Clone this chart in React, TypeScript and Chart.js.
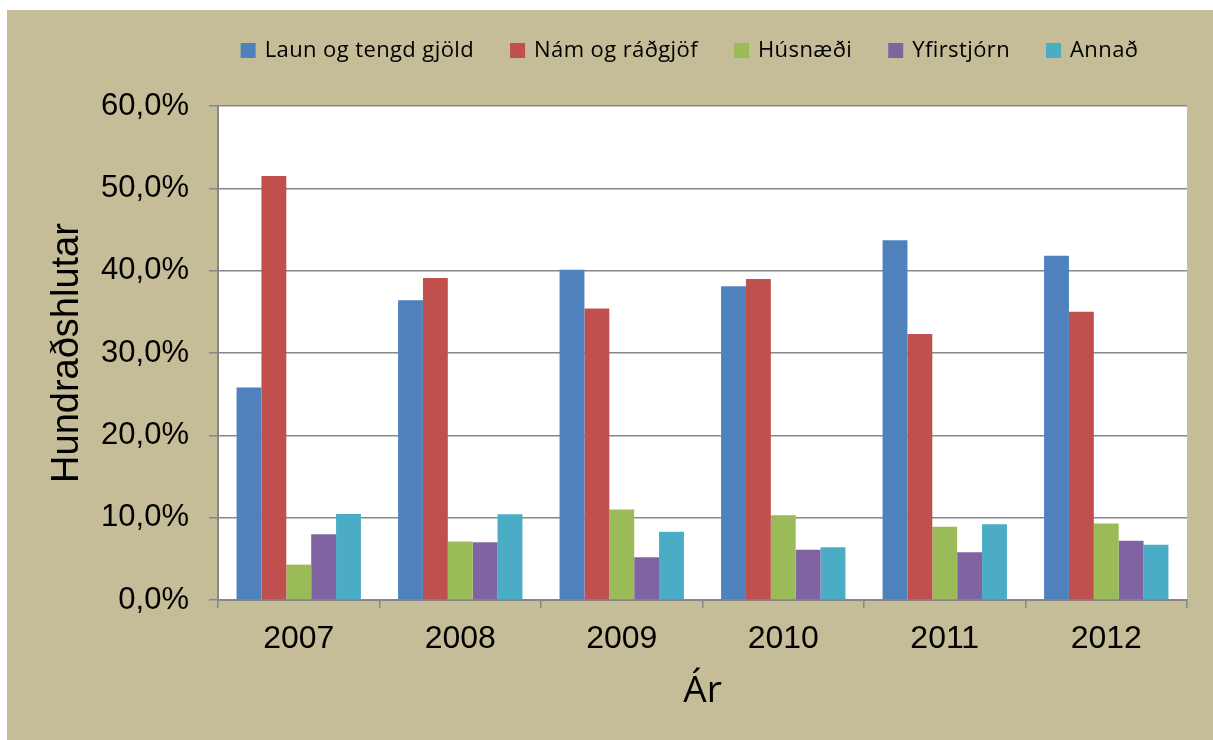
import React, { useEffect, useRef } from 'react';
import { Chart, registerables } from 'chart.js';

Chart.register(...registerables);

const years = ['2007', '2008', '2009', '2010', '2011', '2012'];
const seriesNames = ['Laun og tengd gjöld', 'Nám og ráðgjöf', 'Húsnæði', 'Yfirstjórn', 'Annað'];
const laun = [25.8, 36.4, 40.1, 38.1, 43.7, 41.8];
const nam = [51.5, 39.1, 35.4, 39.0, 32.3, 35.0];
const husnaedi = [4.3, 7.1, 11.0, 10.3, 8.9, 9.3];
const yfirstjorn = [8.0, 7.0, 5.2, 6.1, 5.8, 7.2];
const annad = [10.45, 10.4, 8.3, 6.4, 9.2, 6.7];
const seriesColors = ['#4F81BD', '#C0504D', '#9BBB59', '#8064A2', '#4BACC6'];
const yTickValues = [0, 10, 20, 30, 40, 50, 60];

const BG = '#C4BD97';
const GRID = '#878787';

const plotBgPlugin = {
  id: 'plotBg',
  beforeDraw(chart: any) {
    const { ctx, chartArea } = chart;
    ctx.save();
    ctx.fillStyle = '#ffffff';
    ctx.fillRect(chartArea.left, chartArea.top, chartArea.right - chartArea.left, chartArea.bottom - chartArea.top);
    ctx.restore();
  },
};

const legendPlugin = {
  id: 'customLegend',
  afterDraw(chart: any) {
    const ctx = chart.ctx;
    ctx.save();
    ctx.font = '22px "Open Sans"';
    try {
      (ctx as any).letterSpacing = '0.4px';
    } catch (e) {}
    ctx.textBaseline = 'middle';
    ctx.textAlign = 'left';
    const box = 15;
    const gapText = 9;
    const gapItem = 36;
    const items = chart.data.datasets.map((ds: any) => ({
      label: ds.label,
      color: ds.backgroundColor,
      w: ctx.measureText(ds.label).width,
    }));
    const total =
      items.reduce((s: number, it: any) => s + box + gapText + it.w, 0) + gapItem * (items.length - 1);
    const ca = chart.chartArea;
    let x = (ca.left + ca.right) / 2 - 13 - total / 2;
    const top = 33;
    for (const it of items) {
      ctx.fillStyle = it.color;
      ctx.fillRect(x, top, box, box);
      ctx.fillStyle = '#000';
      ctx.fillText(it.label, x + box + gapText, top + box / 2);
      x += box + gapText + it.w + gapItem;
    }
    ctx.restore();
  },
};

export default function App() {
  const canvasRef = useRef<HTMLCanvasElement | null>(null);

  useEffect(() => {
    const canvas = canvasRef.current;
    if (!canvas) return;
    const values = [laun, nam, husnaedi, yfirstjorn, annad];
    const chart = new Chart(canvas, {
      type: 'bar',
      data: {
        labels: years,
        datasets: seriesNames.map((name, i) => ({
          label: name,
          data: values[i],
          backgroundColor: seriesColors[i],
          borderWidth: 0,
          categoryPercentage: 0.77,
          barPercentage: 1,
        })),
      },
      options: {
        responsive: false,
        animation: false,
        devicePixelRatio: 1,
        color: '#000',
        layout: { padding: { top: 96, right: 26, left: 0, bottom: 0 } },
        plugins: {
          legend: { display: false },
          title: { display: false },
          tooltip: { enabled: false },
        },
        scales: {
          x: {
            grid: {
              display: true,
              drawOnChartArea: false,
              drawTicks: true,
              tickLength: 8,
              color: GRID,
              lineWidth: 1.5,
              offset: true,
            },
            border: { display: true, color: GRID, width: 2 },
            ticks: {
              color: '#000',
              font: { family: '"Liberation Sans", Arial, sans-serif', size: 32 },
              padding: 12,
            },
            title: {
              display: true,
              text: 'Ár',
              color: '#000',
              font: { family: '"Open Sans", sans-serif', size: 37 },
              padding: { top: 0, bottom: 26 },
            },
            afterFit(scale: any) {
              scale.height = 140;
            },
          },
          y: {
            min: 0,
            max: 60,
            afterBuildTicks(scale: any) {
              scale.ticks = yTickValues.map((v) => ({ value: v }));
            },
            grid: {
              color: GRID,
              lineWidth: 1.5,
              tickLength: 9,
              drawTicks: true,
            },
            border: { display: true, color: GRID, width: 2 },
            ticks: {
              color: '#000',
              font: { family: '"Liberation Sans", Arial, sans-serif', size: 31 },
              padding: 20,
              callback: (v: any) => Number(v).toFixed(1).replace('.', ',') + '%',
            },
            title: {
              display: true,
              text: 'Hundraðshlutar',
              color: '#000',
              font: { family: '"Liberation Sans", Arial, sans-serif', size: 38 },
              padding: { top: 38, bottom: 0 },
            },
            afterFit(scale: any) {
              scale.width = 211;
            },
          },
        },
      },
      plugins: [plotBgPlugin, legendPlugin],
    });
    return () => chart.destroy();
  }, []);

  return (
    <div
      style={{
        position: 'fixed',
        left: 0,
        top: 0,
        width: 1240,
        height: 760,
        background: BG,
        borderTop: '10px solid #fff',
        borderLeft: '7px solid #fff',
        boxSizing: 'border-box',
      }}
    >
      <canvas ref={canvasRef} width={1206} height={730} style={{ display: 'block' }} />
    </div>
  );
}
